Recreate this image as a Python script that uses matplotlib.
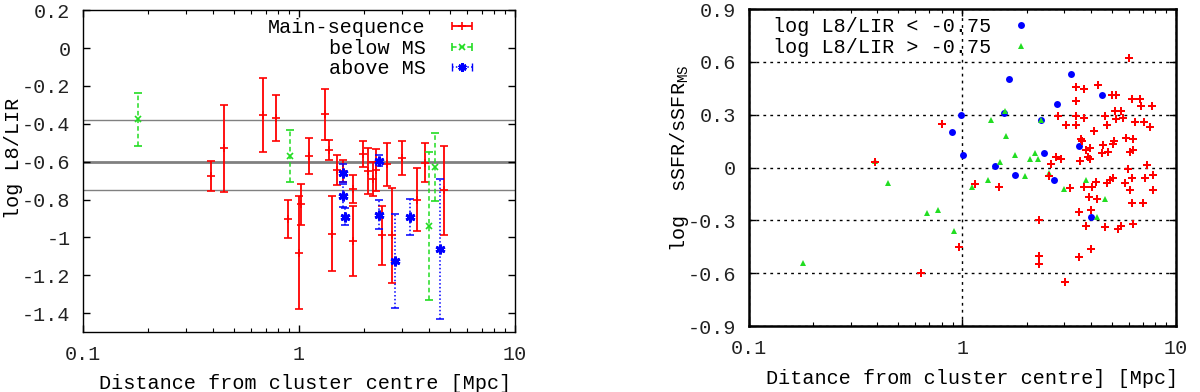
import numpy as np
import matplotlib
matplotlib.use('Agg')
import matplotlib.pyplot as plt
from matplotlib.lines import Line2D
from matplotlib.ticker import FuncFormatter, FixedLocator

plt.rcParams['font.family'] = 'Liberation Mono'
plt.rcParams['mathtext.fontset'] = 'custom'
plt.rcParams['mathtext.rm'] = 'Liberation Mono'
plt.rcParams['axes.unicode_minus'] = False

# ---- left panel: log L8/LIR vs distance (value, symmetric error) ----
ms_dist = [0.39, 0.45, 0.68, 0.78, 0.89, 1.00, 1.02, 1.11, 1.32, 1.37, 1.42, 1.50, 1.60,
           1.77, 1.78, 1.97, 2.08, 2.19, 2.26, 2.43, 2.55, 2.69, 3.01, 3.53, 3.83, 4.69]
ms_val = [-0.675, -0.53, -0.355, -0.37, -0.905, -1.08, -0.825, -0.57, -0.35, -0.54, -0.98, -0.645, -0.65,
          -0.745, -1.02, -0.56, -0.65, -0.69, -0.645, -0.99, -0.615, -0.99, -0.58, -0.80, -0.605, -0.75]
ms_err = [0.08, 0.23, 0.195, 0.12, 0.10, 0.30, 0.108, 0.095, 0.135, 0.053, 0.20, 0.08, 0.06,
          0.075, 0.185, 0.07, 0.12, 0.09, 0.11, 0.155, 0.115, 0.25, 0.09, 0.165, 0.105, 0.235]

below_dist = [0.18, 0.91, 3.98, 4.27]
below_val = [-0.375, -0.57, -0.94, -0.63]
below_err = [0.14, 0.135, 0.39, 0.18]

above_dist = [1.59, 1.59, 1.64, 2.34, 2.35, 2.78, 3.27, 4.50]
above_val = [-0.66, -0.78, -0.89, -0.88, -0.595, -1.125, -0.89, -1.06]
above_err = [0.05, 0.06, 0.045, 0.077, 0.03, 0.25, 0.095, 0.37]

ref_lines = [-0.38, -0.6, -0.75]
ref_widths = [1.0, 2.0, 1.0]

# ---- right panel: log sSFR/sSFR_MS vs distance ----
low_dist = [0.89, 0.99, 1.01, 1.42, 1.57, 1.65, 1.77, 2.34, 2.42, 2.67, 2.76, 3.24, 3.50, 3.99, 4.48]
low_val = [0.20, 0.30, 0.07, 0.01, 0.31, 0.50, -0.04, 0.27, 0.08, -0.07, 0.36, 0.53, 0.12, -0.28, 0.41]

high_dist = [0.18, 0.39, 0.45, 0.68, 0.77, 0.91, 1.11, 1.32, 1.36, 1.50, 1.59, 1.60, 1.77, 1.97,
             2.08, 2.19, 2.26, 2.34, 2.54, 3.00, 3.80, 4.26, 4.65]
high_val = [-0.54, 0.04, -0.09, -0.26, -0.24, -0.36, -0.11, -0.07, 0.27, 0.03, 0.32, 0.18, 0.07, -0.05,
            0.05, 0.08, 0.05, 0.27, -0.03, -0.12, -0.07, -0.28, -0.18]

all_dist = [0.39, 0.64, 0.80, 0.96, 1.14, 1.48, 2.29, 2.29, 2.29, 2.54, 2.59, 2.73, 2.81, 2.90,
            3.01, 3.04, 3.19, 3.39, 3.39, 3.40, 3.41, 3.50, 3.53, 3.56, 3.58, 3.63, 3.70, 3.71,
            3.71, 3.78, 3.80, 3.87, 3.93, 3.96, 3.96, 3.99, 4.02, 4.03, 4.14, 4.23, 4.26, 4.32,
            4.49, 4.56, 4.65, 4.67, 4.73, 4.74, 4.79, 4.92, 5.04, 5.05, 5.07, 5.12, 5.16, 5.25,
            5.25, 5.36, 5.50, 5.51, 5.62, 5.78, 5.83, 5.93, 6.03, 6.10, 6.12, 6.19, 6.19, 6.25,
            6.28, 6.31, 6.31, 6.43, 6.75, 6.84, 7.00, 7.12, 7.16, 7.31, 7.54, 7.73, 7.83, 7.83]
all_val = [0.03, -0.60, 0.25, -0.45, -0.095, -0.11, -0.30, -0.50, -0.55, -0.045, 0.02, 0.06, 0.29, 0.05,
           -0.65, 0.24, -0.115, 0.46, 0.38, 0.29, 0.24, -0.25, -0.51, 0.04, 0.16, 0.15, -0.11, 0.445,
           0.28, 0.10, -0.33, 0.06, -0.165, 0.11, 0.05, -0.46, -0.24, -0.11, 0.21, -0.08, -0.18, 0.47,
           0.08, 0.13, -0.34, 0.29, -0.085, 0.24, 0.09, -0.07, 0.41, 0.135, -0.06, 0.15, 0.32, 0.41,
           0.275, -0.35, -0.33, 0.32, 0.28, -0.09, 0.17, -0.01, 0.62, -0.13, 0.09, -0.06, -0.20, 0.39,
           -0.32, 0.16, 0.10, 0.26, 0.39, 0.35, -0.20, 0.26, -0.06, 0.015, 0.23, 0.35, -0.04, -0.13]

red = '#ff0000'
green = '#22dd22'
blue = '#0000ff'
fs = 14.5
ast = (6, 2, 0)  # gnuplot-like asterisk

fig = plt.figure(figsize=(12, 3.92), dpi=100)

# ================= left =================
ax1 = fig.add_axes([0.0692, 0.153, 0.36, 0.821])
for yv, lw in zip(ref_lines, ref_widths):
    ax1.axhline(yv, color='#808080', lw=lw, zorder=1)

ax1.errorbar(ms_dist, ms_val, yerr=ms_err, fmt='+', color=red, ms=6, mew=1.2,
             elinewidth=1.3, capsize=3, capthick=1.3, zorder=3)
eb = ax1.errorbar(below_dist, below_val, yerr=below_err, fmt='x', color=green, ms=5, mew=1.2,
                  elinewidth=1.1, capsize=3, capthick=1.1, zorder=3)
eb[2][0].set_linestyle((0, (3, 2)))
eb = ax1.errorbar(above_dist, above_val, yerr=above_err, fmt='none', ecolor=blue,
                  elinewidth=1.1, capsize=3, capthick=1.1, zorder=3)
eb[2][0].set_linestyle((0, (1, 1.5)))
ax1.plot(above_dist, above_val, ls='none', marker=ast, color=blue, ms=7, mew=2, zorder=4)

# legend proxies (horizontal bar with end caps, like gnuplot keys)
h1 = ax1.errorbar([np.nan], [np.nan], xerr=[1], fmt='+', color=red, ms=6, mew=1.2,
                  elinewidth=1.3, capsize=3)
h2 = ax1.errorbar([np.nan], [np.nan], xerr=[1], fmt='x', color=green, ms=5, mew=1.2,
                  elinewidth=1.1, capsize=3)
h2[2][0].set_linestyle((0, (3, 2)))
h3 = ax1.errorbar([np.nan], [np.nan], xerr=[1], fmt='none', ecolor=blue,
                  elinewidth=1.1, capsize=3)
h3[2][0].set_linestyle((0, (1, 1.5)))
m3 = Line2D([], [], ls='none', marker=ast, color=blue, ms=6, mew=2)
ax1.legend(handles=[h1, h2, (h3, m3)], labels=['Main-sequence', 'below MS', 'above MS'],
           loc='upper right', bbox_to_anchor=(0.942, 0.975),
           frameon=False, markerfirst=False, fontsize=fs, borderpad=0, borderaxespad=0,
           handlelength=2.8, handletextpad=0.4, labelspacing=0.08)

ax1.set_xscale('log')
ax1.set_xlim(0.1, 10)
ax1.set_ylim(-1.5, 0.2)
ax1.yaxis.set_major_locator(FixedLocator(np.arange(-1.4, 0.21, 0.2)))
fmt = FuncFormatter(lambda v, p: '%g' % (round(v, 2) + 0.0))
ax1.xaxis.set_major_formatter(fmt)
ax1.yaxis.set_major_formatter(fmt)
ax1.set_xlabel('Distance from cluster centre [Mpc]', fontsize=fs)
ax1.set_ylabel('log L8/LIR', fontsize=fs)
ax1.xaxis.set_label_coords(0.514, -0.13)
ax1.yaxis.set_label_coords(-0.14, 0.54)

# ================= right =================
ax2 = fig.add_axes([0.624, 0.168, 0.356, 0.809])
ax2.grid(True, which='major', ls=(0, (2, 3)), color='black', lw=1)
ax2.plot(low_dist, low_val, 'o', color=blue, ms=5, mew=0, label='log L8/LIR < -0.75', zorder=3)
ax2.plot(high_dist, high_val, '^', color=green, ms=4.5, mew=0, label='log L8/LIR > -0.75', zorder=4)
ax2.plot(all_dist, all_val, 'P', color=red, ms=5.5, mew=0, zorder=5)
ax2.legend(loc='upper left', bbox_to_anchor=(0.056, 0.975), frameon=False, markerfirst=False,
           fontsize=fs, borderpad=0, borderaxespad=0, handlelength=1.0, handletextpad=1.0,
           labelspacing=0.08, numpoints=1)
ax2.set_xscale('log')
ax2.set_xlim(0.1, 10)
ax2.set_ylim(-0.9, 0.9)
ax2.yaxis.set_major_locator(FixedLocator(np.arange(-0.9, 0.91, 0.3)))
ax2.xaxis.set_major_formatter(fmt)
ax2.yaxis.set_major_formatter(fmt)
ax2.set_xlabel('Ditance from cluster centre] [Mpc]', fontsize=fs)
ax2.set_ylabel(r'log  sSFR/sSFR$_{\mathrm{MS}}$', fontsize=fs)
ax2.xaxis.set_label_coords(0.522, -0.135)
ax2.yaxis.set_label_coords(-0.135, 0.53)

for ax, blw in ((ax1, 1.0), (ax2, 1.8)):
    ax.tick_params(which='both', direction='in', top=True, right=True, labelsize=fs,
                   colors='black', labelcolor='#222222')
    ax.tick_params(which='major', length=5, width=1, pad=9)
    ax.tick_params(which='minor', length=3, width=0.8)
    ax.tick_params(axis='y', which='minor', left=False, right=False)
    for s in ax.spines.values():
        s.set_linewidth(blw)

fig.savefig('out.png', dpi=100)
